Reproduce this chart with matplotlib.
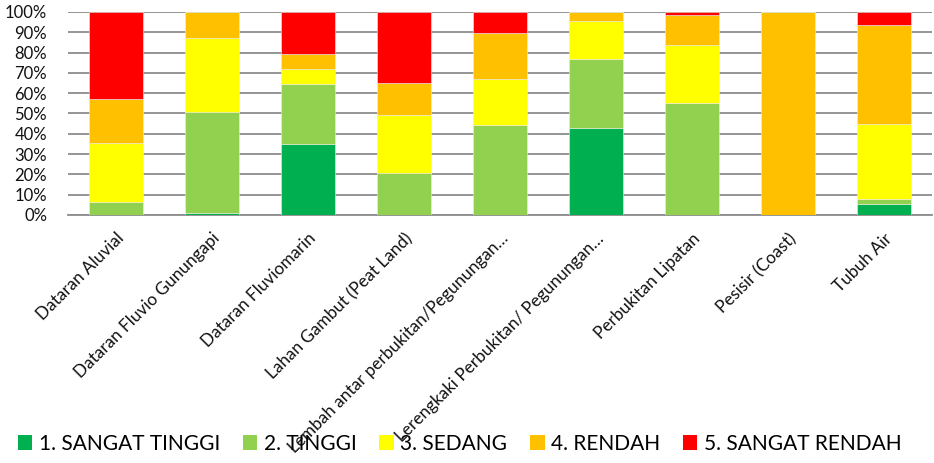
import matplotlib
matplotlib.use("Agg")
import matplotlib.pyplot as plt
from matplotlib.patches import Patch
from matplotlib.ticker import FuncFormatter
import numpy as np

plt.rcParams['font.family'] = ['Lato', 'DejaVu Sans']

categories = [
    "Dataran Aluvial",
    "Dataran Fluvio Gunungapi",
    "Dataran Fluviomarin",
    "Lahan Gambut (Peat Land)",
    "Lembah antar perbukitan/Pegunungan…",
    "Lerengkaki Perbukitan/ Pegunungan…",
    "Perbukitan Lipatan",
    "Pesisir (Coast)",
    "Tubuh Air",
]
series_names = ["1. SANGAT TINGGI", "2. TINGGI", "3. SEDANG", "4. RENDAH", "5. SANGAT RENDAH"]
sangat_tinggi = [0.0, 0.8, 34.9, 0.0, 0.0, 43.1, 0.0, 0.0, 5.2]
tinggi = [6.4, 49.9, 29.7, 20.8, 44.4, 33.9, 55.4, 0.0, 2.8]
sedang = [29.3, 36.3, 7.2, 28.5, 22.6, 18.4, 28.5, 0.0, 36.9]
rendah = [21.5, 13.0, 7.4, 15.8, 22.7, 4.6, 14.8, 100.0, 48.5]
sangat_rendah = [42.8, 0.0, 20.8, 34.9, 10.3, 0.0, 1.3, 0.0, 6.6]
colors = ["#00B050", "#92D050", "#FFFF00", "#FFC000", "#FF0000"]

series = [sangat_tinggi, tinggi, sedang, rendah, sangat_rendah]

fig = plt.figure(figsize=(9.34, 4.63), dpi=100)
ax = fig.add_axes([68 / 934, (463 - 215) / 463, (932 - 68) / 934, (215 - 12) / 463])

x = np.arange(len(categories))
bottom = np.zeros(len(categories))
tot = np.array([sum(s[i] for s in series) for i in range(len(categories))])
for vals, c, name in zip(series, colors, series_names):
    v = np.array(vals, dtype=float) / tot * 100
    ax.bar(x, v, bottom=bottom, width=0.57, color=c, edgecolor="#e8f0e0", linewidth=0.4, zorder=3, label=name)
    bottom += v

ax.set_xlim(-0.5, len(categories) - 0.5)
ax.set_ylim(0, 100)
ax.set_yticks(np.arange(0, 101, 10))
ax.yaxis.set_major_formatter(FuncFormatter(lambda v, p: f"{int(v)}%"))
ax.grid(axis="y", color="#8c8c8c", linewidth=1.3, zorder=0)
ax.set_axisbelow(True)
for s in ["top", "right", "left"]:
    ax.spines[s].set_visible(False)
ax.spines["bottom"].set_color("#8c8c8c")
ax.spines["bottom"].set_linewidth(1.3)
ax.tick_params(axis="both", length=0, labelsize=12, colors="#111111")
ax.tick_params(axis="y", pad=15)
ax.set_xticks(x)
ax.set_xticklabels(categories, rotation=45, ha="right", rotation_mode="anchor", fontsize=12.3)
ax.tick_params(axis="x", pad=11)

handles = [Patch(facecolor=c, edgecolor="none") for c in colors]
fig.legend(handles, series_names, loc="center", bbox_to_anchor=(0.492, 0.041), ncol=5,
           frameon=False, fontsize=15, handlelength=0.7, handleheight=0.7,
           handletextpad=0.3, columnspacing=1.1)

fig.savefig("out.png", dpi=100)
